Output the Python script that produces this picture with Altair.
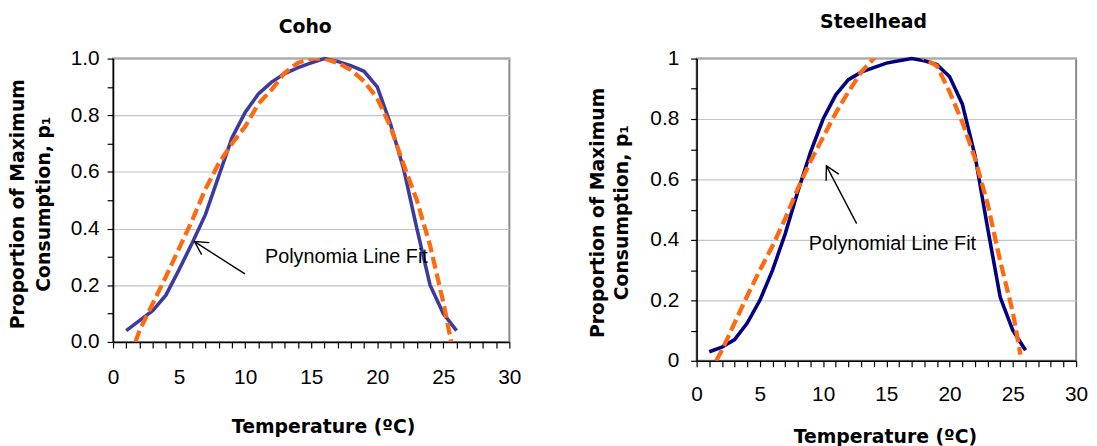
import math
import altair as alt
import pandas as pd

# ---------------- data ----------------
coho_temp = list(range(1, 27))
coho_obs = [0.04, 0.075, 0.11, 0.165, 0.255, 0.35, 0.45, 0.585, 0.72, 0.81,
            0.875, 0.917, 0.947, 0.968, 0.985, 1.0, 0.99, 0.975, 0.955, 0.90,
            0.77, 0.61, 0.40, 0.20, 0.10, 0.04]
coho_fit_temp = [1.7] + list(range(2, 26)) + [25.6]
coho_fit = [0.0, 0.04, 0.135, 0.23, 0.33, 0.43, 0.54, 0.63, 0.70, 0.76,
            0.84, 0.89, 0.95, 0.985, 1.0, 1.0, 0.985, 0.96, 0.92, 0.86,
            0.76, 0.625, 0.50, 0.34, 0.14, 0.0]

steel_temp = list(range(1, 27))
steel_obs = [0.03, 0.045, 0.07, 0.125, 0.20, 0.30, 0.42, 0.56, 0.69, 0.80,
             0.88, 0.93, 0.955, 0.97, 0.985, 0.993, 1.0, 0.993, 0.98, 0.94,
             0.85, 0.68, 0.44, 0.21, 0.10, 0.035]
steel_fit_temp = [1.55] + list(range(2, 26)) + [25.6]
steel_fit = [0.0, 0.035, 0.125, 0.215, 0.30, 0.38, 0.47, 0.57, 0.66, 0.74,
             0.82, 0.89, 0.955, 1.0, 1.03, 1.04, 1.03, 1.0, 0.975, 0.89,
             0.79, 0.67, 0.52, 0.33, 0.16, 0.02]

x_ticks = list(range(0, 31))
y_ticks = [round(0.1 * i, 1) for i in range(11)]

coho_note = "Polynomia Line Fit"
coho_note_x, coho_note_y = 11.5, 0.30
coho_arrow_tail = (9.98, 0.24)
coho_arrow_head = (6.17, 0.354)

steel_note = "Polynomial Line Fit"
steel_note_x, steel_note_y = 8.87, 0.386
steel_arrow_tail = (12.65, 0.454)
steel_arrow_head = (10.26, 0.645)

X_TITLE = "Temperature (ºC)"
Y_TITLE = ["Proportion of Maximum", "Consumption, p\u2081"]

COHO_BLUE = "#3b3b9f"
NAVY = "#000080"
ORANGE = "#ff6a10"
ARROW_PATH = "M-1,-0.55L0,0L-1,0.55"


def panel(title, obs_t, obs_v, fit_t, fit_v, line_color, note, note_x, note_y,
          tail, head, w, h, fmt, title_offset, title_dx, ylab_pad, xlab_pad,
          xtitle_x, xtitle_y, ytitle_x, ytitle_y, ytitle_lh):
    obs = pd.DataFrame({"t": obs_t, "p": obs_v})
    fit = pd.DataFrame({"t": fit_t, "p": fit_v})
    xs = alt.Scale(domain=[0, 30], nice=False, zero=False)
    ys = alt.Scale(domain=[0, 1], nice=False, zero=False)

    even_test = "round(datum.value*10) % 2 === 0"
    xaxis = alt.Axis(values=x_ticks,
                     labelExpr="datum.value % 5 === 0 ? datum.label : ''",
                     grid=False, title=X_TITLE, titleX=xtitle_x, titleY=xtitle_y,
                     titleBaseline="middle", titleAlign="center",
                     labelPadding=xlab_pad, labelOverlap=False, labelFlush=False)
    yaxis = alt.Axis(values=y_ticks,
                     labelExpr=even_test + " ? format(datum.value, '" + fmt + "') : ''",
                     gridOpacity={"condition": {"test": even_test, "value": 1},
                                  "value": 0},
                     title=Y_TITLE, titleX=ytitle_x, titleY=ytitle_y, titleAngle=270,
                     titleBaseline="middle", titleAlign="center",
                     titleLineHeight=ytitle_lh, labelPadding=ylab_pad,
                     labelOverlap=False, labelFlush=False)
    X = alt.X("t:Q", scale=xs, axis=xaxis)
    Y = alt.Y("p:Q", scale=ys, axis=yaxis)

    base_line = alt.Chart(obs).mark_line(color=line_color, strokeWidth=3.6).encode(
        x=X, y=Y)
    fit_line = alt.Chart(fit).mark_line(color=ORANGE, strokeWidth=4.3,
                                        strokeDash=[12, 5], clip=True).encode(
        x=X, y=Y)
    note_df = pd.DataFrame({"t": [note_x], "p": [note_y], "label": [note]})
    text = alt.Chart(note_df).mark_text(align="left", baseline="middle",
                                        font="Liberation Sans", fontSize=20,
                                        color="black").encode(
        x=X, y=Y, text="label:N")

    arrow_df = pd.DataFrame({"t": [tail[0]], "p": [tail[1]],
                             "t2": [head[0]], "p2": [head[1]]})
    shaft = alt.Chart(arrow_df).mark_rule(color="black", strokeWidth=1.4).encode(
        x=X, y=Y, x2="t2:Q", y2="p2:Q")

    dx = (head[0] - tail[0]) * w / 30.0
    dy = -(head[1] - tail[1]) * h
    ang = math.degrees(math.atan2(dy, dx)) % 360
    head_df = pd.DataFrame({"t": [head[0]], "p": [head[1]]})
    tip = alt.Chart(head_df).mark_point(shape=ARROW_PATH, filled=False, size=690,
                                        angle=ang, color="black", strokeWidth=1.4,
                                        opacity=1).encode(x=X, y=Y)

    return alt.layer(base_line, fit_line, shaft, tip, text).properties(
        width=w, height=h,
        title=alt.TitleParams(text=title, font="DejaVu Sans", fontSize=19,
                              fontWeight="bold", anchor="middle", frame="group",
                              offset=title_offset, dx=title_dx, color="black"),
    )


LW, LH = 400, 286
RW, RH = 383, 305

left = panel("Coho", coho_temp, coho_obs, coho_fit_temp, coho_fit, COHO_BLUE,
             coho_note, coho_note_x, coho_note_y, coho_arrow_tail, coho_arrow_head,
             LW, LH, ".1f", 11, -6, 8, 19, 212, 85, -96, LH / 2 + 3.5, 26)
right = panel("Steelhead", steel_temp, steel_obs, steel_fit_temp, steel_fit, NAVY,
              steel_note, steel_note_x, steel_note_y, steel_arrow_tail, steel_arrow_head,
              RW, RH, ".1~f", 16, -13, 12, 17, 190, 76, -99.7, RH / 2 + 2.7, 24.4)

chart = alt.hconcat(left, right, spacing=189, bounds="flush").properties(
    padding={"left": 0, "top": 2, "right": 0, "bottom": 0},
    background="white",
).configure_view(
    stroke="#8a8a8a", strokeWidth=2
).configure_axis(
    domainColor="black", domainWidth=1.5,
    tickColor="black", tickWidth=1.2, tickSize=6,
    labelFont="Liberation Sans", labelFontSize=21, labelColor="black",
    titleFont="DejaVu Sans", titleFontSize=19, titleFontWeight="bold",
    titleColor="black", gridColor="#c4c4c4", gridWidth=1.2,
)

chart.save("out.html", embed_options={"renderer": "svg", "actions": False})
